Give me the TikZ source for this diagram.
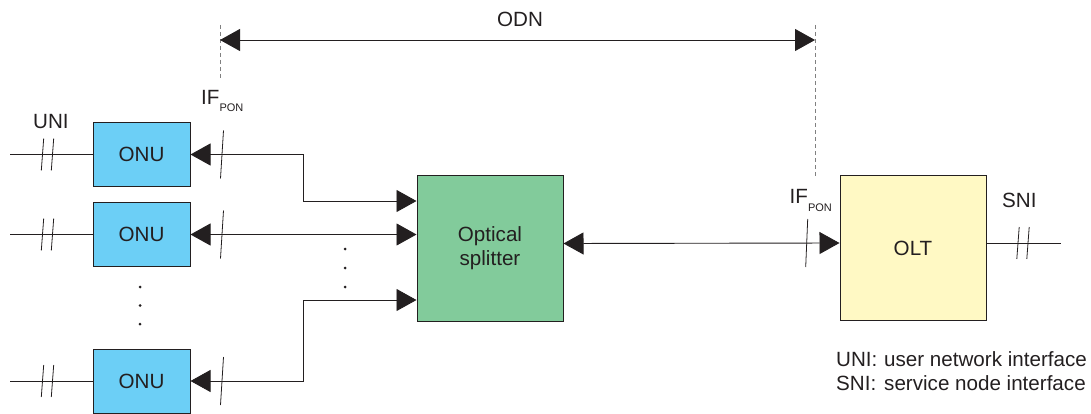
\documentclass[tikz,border=0pt]{standalone}
\usepackage{fontspec}
\setmainfont{Liberation Sans}
\usetikzlibrary{arrows.meta}
\definecolor{onublue}{HTML}{6CCFF6}
\definecolor{splgreen}{HTML}{82CB9B}
\definecolor{oltyellow}{HTML}{FFF9C4}
\definecolor{ink}{HTML}{231F20}
\tikzset{
  box/.style={draw=ink, line width=1pt, inner sep=0pt, text=ink,
    font=\fontsize{20.6}{24}\selectfont},
  onubox/.style={box, fill=onublue, minimum width=97pt, minimum height=64pt},
  wire/.style={draw=ink, line width=0.9pt},
  tickmark/.style={draw=ink, line width=0.8pt},
  dashline/.style={draw=gray, line width=0.8pt, dash pattern=on 4pt off 3pt},
  both/.style={{Triangle[length=20pt,width=22pt]}-{Triangle[length=20pt,width=22pt]}},
  lbl/.style={inner sep=0pt, anchor=base west, text=ink, font=\fontsize{20.6}{24}\selectfont},
}
\newcommand{\ifpon}{IF\raisebox{-7pt}{\fontsize{11}{11}\selectfont PON}}
\begin{document}
\begin{tikzpicture}[x=1pt,y=-1pt]
\useasboundingbox (0,0) rectangle (1091,414);

% blocks
\node[onubox] (onu1) at (141.5,154.5) {ONU};
\node[onubox] (onu2) at (141.5,234.5) {ONU};
\node[onubox] (onu3) at (141.5,381) {ONU};
\node[box, fill=splgreen, minimum width=146pt, minimum height=145pt, align=center] (spl) at (490,248.5) {Optical\\splitter};
\node[box, fill=oltyellow, minimum width=146pt, minimum height=144pt] (olt) at (913,248) {OLT};

% ONU to splitter
\coordinate (b1) at (303,201);
\coordinate (b3) at (303,300);
\draw[wire,both] (onu1.east) -| (b1) -- (b1 -| spl.west);
\draw[wire,both] (onu2.east) -- (onu2.east -| spl.west);
\draw[wire,both] (onu3.east) -| (b3) -- (b3 -| spl.west);

% splitter to OLT
\draw[wire,both] ([yshift=5pt]spl.east) -- ([yshift=5pt]olt.west);

% UNI and SNI lines
\coordinate (u1) at (10,154.5);
\coordinate (u2) at (10,234.5);
\coordinate (u3) at (10,381);
\draw[wire] (u1) -- (onu1.west);
\draw[wire] (u2) -- (onu2.west);
\draw[wire] (u3) -- (onu3.west);
\coordinate (sni) at (1061,243);
\draw[wire] ([yshift=5pt]olt.east) -- (sni);

% interface ticks
\foreach \y in {154.5,234.5,381} {
  \draw[tickmark] (223.5,\y-24) -- (220.5,\y+24);
  \draw[tickmark] (43.7,\y-16) -- (41.3,\y+16);
  \draw[tickmark] (53.7,\y-16) -- (51.3,\y+16);
}
\draw[tickmark] (807.7,219) -- (805.7,267);
\draw[tickmark] (1019.2,227) -- (1016.8,259);
\draw[tickmark] (1029.2,227) -- (1026.8,259);

% dots
\foreach \y in {287,305.5,324} \fill[ink] (140,\y) circle (1.5pt);
\foreach \y in {249,268,287} \fill[ink] (345,\y) circle (1.5pt);

% ODN
\coordinate (dl1) at (220,25);
\coordinate (dl2) at (220,78);
\coordinate (dr1) at (815,25);
\coordinate (dr2) at (815,176);
\draw[dashline] (dl1) -- (dl2);
\draw[dashline] (dr1) -- (dr2);
\coordinate (odnl) at (220,40);
\coordinate (odnr) at (815,40);
\draw[wire,both] (odnl) -- (odnr);

% labels
\node[lbl] (odn) at (497,27) {ODN};
\node[lbl] (uni) at (33,129) {UNI};
\node[lbl] (sniL) at (1002,207) {SNI};
\node[lbl] (ifl) at (201,105) {\ifpon};
\node[lbl] (ifr) at (789.5,204) {\ifpon};

% legend
\node[lbl] (lg1a) at (836,366) {UNI:};
\node[lbl] (lg1b) at (884,366) {user network interface};
\node[lbl] (lg2a) at (836,390) {SNI:};
\node[lbl] (lg2b) at (884,390) {service node interface};
\end{tikzpicture}
\end{document}
